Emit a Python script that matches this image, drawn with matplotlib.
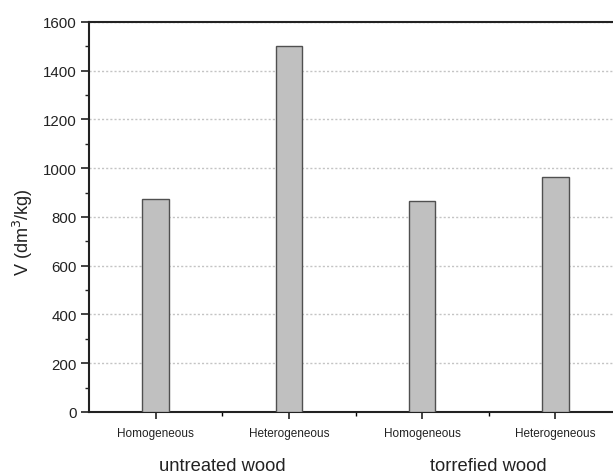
import numpy as np
import matplotlib.pyplot as plt
from matplotlib.ticker import MultipleLocator

plt.rcParams['font.family'] = ['Liberation Sans', 'DejaVu Sans']

# Specific volume per sample type
samples = ["Homogeneous", "Heterogeneous", "Homogeneous", "Heterogeneous"]
groups = ["untreated wood", "torrefied wood"]
volume = [873, 1500, 865, 965]

x = np.arange(1, len(samples) + 1)

fig = plt.figure(figsize=(6.13, 4.77), dpi=100)
ax = fig.add_axes([0.1452, 0.1342, 0.8695, 0.8176])

ax.bar(x, volume, width=0.2, color="#c0c0c0", edgecolor="#505050", linewidth=1.0, zorder=3)

ax.set_xlim(0.5, 4.5)
ax.set_ylim(0, 1600)
ax.yaxis.set_major_locator(MultipleLocator(200))
ax.yaxis.set_minor_locator(MultipleLocator(100))
ax.set_xticks(x)
ax.set_xticklabels(samples, fontsize=8.5, color="#333333")
ax.set_xticks(np.arange(1.5, 4.6, 1), minor=True)

ax.grid(axis="y", linestyle=(0, (1.5, 1.5)), color="#c4c4c4", linewidth=1.0, zorder=0)

for s in ["left", "bottom", "top"]:
    ax.spines[s].set_linewidth(1.5)
    ax.spines[s].set_color("#222222")
ax.spines["right"].set_visible(False)

ax.tick_params(axis="y", which="major", direction="out", length=6, width=1.2, labelsize=10.8, colors="#222222", pad=3)
ax.tick_params(axis="y", which="minor", direction="out", length=3, width=1.0, colors="#222222")
ax.tick_params(axis="x", which="major", direction="out", length=5, width=1.2, pad=6, colors="#222222")
ax.tick_params(axis="x", which="minor", direction="out", length=3, width=1.0)

fig.text(23 / 613, 1 - 232 / 477, "V (dm$^3$/kg)", rotation=90, ha="center", va="center",
         fontsize=13, color="#222222")

for i, g in enumerate(groups):
    ax.text(1.5 + 2 * i, -0.138, g, transform=ax.get_xaxis_transform(),
            ha="center", va="center", fontsize=13.2, color="#222222")

fig.savefig("out.png", dpi=100)
